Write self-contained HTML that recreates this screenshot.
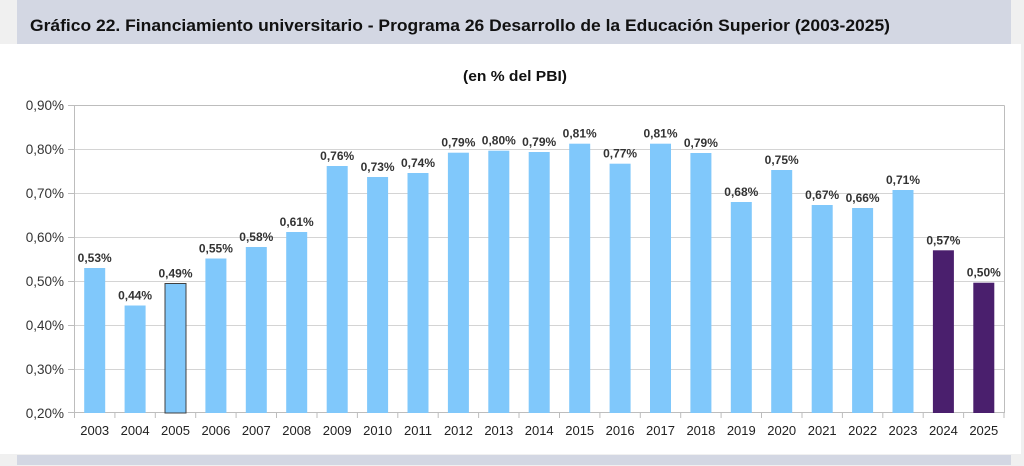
<!DOCTYPE html>
<html><head><meta charset="utf-8"><style>
html,body{margin:0;padding:0;background:#f0f0f0;}
svg{display:block;}
</style></head><body>
<svg width="1024" height="466" viewBox="0 0 1024 466" xmlns="http://www.w3.org/2000/svg" font-family="Liberation Sans, Arial, sans-serif">
<rect x="0" y="0" width="1024" height="466" fill="#f0f0f0"/>
<rect x="0" y="44" width="1021" height="410" fill="#ffffff"/>
<rect x="17" y="0" width="994" height="44" fill="#d3d7e3"/>
<rect x="17" y="455" width="994" height="10" fill="#d3d7e3"/>
<text x="30" y="31" font-size="17" font-weight="bold" fill="#111" textLength="860" lengthAdjust="spacingAndGlyphs">Gráfico 22. Financiamiento universitario - Programa 26 Desarrollo de la Educación Superior (2003-2025)</text>
<text x="463" y="81" font-size="15" font-weight="bold" fill="#111" textLength="104" lengthAdjust="spacingAndGlyphs">(en % del PBI)</text>
<g stroke="#d4d4d4" stroke-width="1">
<line x1="74.5" y1="149.5" x2="1004" y2="149.5"/>
<line x1="74.5" y1="193.5" x2="1004" y2="193.5"/>
<line x1="74.5" y1="237.5" x2="1004" y2="237.5"/>
<line x1="74.5" y1="281.5" x2="1004" y2="281.5"/>
<line x1="74.5" y1="325.5" x2="1004" y2="325.5"/>
<line x1="74.5" y1="369.5" x2="1004" y2="369.5"/>
</g>
<g stroke="#bdbdbd" stroke-width="1" fill="none">
<line x1="68" y1="105.5" x2="1004.5" y2="105.5"/>
<line x1="1004.5" y1="105.5" x2="1004.5" y2="413"/>
<line x1="74.5" y1="105.5" x2="74.5" y2="413"/>
<line x1="68" y1="149.5" x2="74.5" y2="149.5"/>
<line x1="68" y1="193.5" x2="74.5" y2="193.5"/>
<line x1="68" y1="237.5" x2="74.5" y2="237.5"/>
<line x1="68" y1="281.5" x2="74.5" y2="281.5"/>
<line x1="68" y1="325.5" x2="74.5" y2="325.5"/>
<line x1="68" y1="369.5" x2="74.5" y2="369.5"/>
<line x1="68" y1="412.5" x2="1004.5" y2="412.5"/>
</g>
<g stroke="#bdbdbd" stroke-width="1" id="ticks"></g>
<g font-size="13.5" fill="#333" text-anchor="end">
<text x="64" y="110">0,90%</text>
<text x="64" y="154">0,80%</text>
<text x="64" y="198">0,70%</text>
<text x="64" y="242">0,60%</text>
<text x="64" y="286">0,50%</text>
<text x="64" y="330">0,40%</text>
<text x="64" y="374">0,30%</text>
<text x="64" y="418">0,20%</text>
</g>
<g id="bars"></g>
<g id="lbl" font-size="12" font-weight="bold" fill="#333" text-anchor="middle"></g>
<g id="yrs" font-size="13" fill="#222" text-anchor="middle"></g>
<g stroke="#bdbdbd" stroke-width="1">
<line x1="74.5" y1="413" x2="74.5" y2="418"/>
<line x1="114.9" y1="413" x2="114.9" y2="418"/>
<line x1="155.3" y1="413" x2="155.3" y2="418"/>
<line x1="195.7" y1="413" x2="195.7" y2="418"/>
<line x1="236.1" y1="413" x2="236.1" y2="418"/>
<line x1="276.5" y1="413" x2="276.5" y2="418"/>
<line x1="317" y1="413" x2="317" y2="418"/>
<line x1="357.4" y1="413" x2="357.4" y2="418"/>
<line x1="397.8" y1="413" x2="397.8" y2="418"/>
<line x1="438.2" y1="413" x2="438.2" y2="418"/>
<line x1="478.6" y1="413" x2="478.6" y2="418"/>
<line x1="519" y1="413" x2="519" y2="418"/>
<line x1="559.5" y1="413" x2="559.5" y2="418"/>
<line x1="599.9" y1="413" x2="599.9" y2="418"/>
<line x1="640.3" y1="413" x2="640.3" y2="418"/>
<line x1="680.7" y1="413" x2="680.7" y2="418"/>
<line x1="721.1" y1="413" x2="721.1" y2="418"/>
<line x1="761.5" y1="413" x2="761.5" y2="418"/>
<line x1="802" y1="413" x2="802" y2="418"/>
<line x1="842.4" y1="413" x2="842.4" y2="418"/>
<line x1="882.8" y1="413" x2="882.8" y2="418"/>
<line x1="923.2" y1="413" x2="923.2" y2="418"/>
<line x1="963.6" y1="413" x2="963.6" y2="418"/>
<line x1="1004" y1="413" x2="1004" y2="418"/>
</g>
<!-- bars: center = 74.5 + (i+0.5)*40.41, width 21 -->
<g fill="#80c8fb">
<rect x="84.2" y="268" width="21" height="145"/>
<rect x="124.6" y="305.5" width="21" height="107.5"/>
<rect x="165" y="283.5" width="21" height="129.5" stroke="#404040" stroke-width="1"/>
<rect x="205.4" y="258.5" width="21" height="154.5"/>
<rect x="245.8" y="247" width="21" height="166"/>
<rect x="286.2" y="232" width="21" height="181"/>
<rect x="326.7" y="166" width="21" height="247"/>
<rect x="367.1" y="177" width="21" height="236"/>
<rect x="407.5" y="173" width="21" height="240"/>
<rect x="447.9" y="152.7" width="21" height="260.3"/>
<rect x="488.3" y="150.7" width="21" height="262.3"/>
<rect x="528.7" y="152" width="21" height="261"/>
<rect x="569.2" y="143.7" width="21" height="269.3"/>
<rect x="609.6" y="163.7" width="21" height="249.3"/>
<rect x="650" y="143.7" width="21" height="269.3"/>
<rect x="690.4" y="153" width="21" height="260"/>
<rect x="730.8" y="202" width="21" height="211"/>
<rect x="771.2" y="170" width="21" height="243"/>
<rect x="811.7" y="205" width="21" height="208"/>
<rect x="852.1" y="208" width="21" height="205"/>
<rect x="892.5" y="190" width="21" height="223"/>
</g>
<g fill="#4a1f6d">
<rect x="932.9" y="250.3" width="21" height="162.7"/>
<rect x="973.3" y="282.7" width="21" height="130.3"/>
</g>
<g font-size="12" font-weight="bold" fill="#333" text-anchor="middle">
<text x="94.7" y="262">0,53%</text>
<text x="135.1" y="299.5">0,44%</text>
<text x="175.5" y="277.5">0,49%</text>
<text x="215.9" y="252.5">0,55%</text>
<text x="256.3" y="241">0,58%</text>
<text x="296.7" y="226">0,61%</text>
<text x="337.2" y="160">0,76%</text>
<text x="377.6" y="171">0,73%</text>
<text x="418" y="167">0,74%</text>
<text x="458.4" y="146.7">0,79%</text>
<text x="498.8" y="144.7">0,80%</text>
<text x="539.2" y="146">0,79%</text>
<text x="579.7" y="137.7">0,81%</text>
<text x="620.1" y="157.7">0,77%</text>
<text x="660.5" y="137.7">0,81%</text>
<text x="700.9" y="147">0,79%</text>
<text x="741.3" y="196">0,68%</text>
<text x="781.7" y="164">0,75%</text>
<text x="822.2" y="199">0,67%</text>
<text x="862.6" y="202">0,66%</text>
<text x="903" y="184">0,71%</text>
<text x="943.4" y="244.3">0,57%</text>
<text x="983.8" y="276.7">0,50%</text>
</g>
<g font-size="13" fill="#222" text-anchor="middle">
<text x="94.7" y="435">2003</text>
<text x="135.1" y="435">2004</text>
<text x="175.5" y="435">2005</text>
<text x="215.9" y="435">2006</text>
<text x="256.3" y="435">2007</text>
<text x="296.7" y="435">2008</text>
<text x="337.2" y="435">2009</text>
<text x="377.6" y="435">2010</text>
<text x="418" y="435">2011</text>
<text x="458.4" y="435">2012</text>
<text x="498.8" y="435">2013</text>
<text x="539.2" y="435">2014</text>
<text x="579.7" y="435">2015</text>
<text x="620.1" y="435">2016</text>
<text x="660.5" y="435">2017</text>
<text x="700.9" y="435">2018</text>
<text x="741.3" y="435">2019</text>
<text x="781.7" y="435">2020</text>
<text x="822.2" y="435">2021</text>
<text x="862.6" y="435">2022</text>
<text x="903" y="435">2023</text>
<text x="943.4" y="435">2024</text>
<text x="983.8" y="435">2025</text>
</g>
</svg>
</body></html>
